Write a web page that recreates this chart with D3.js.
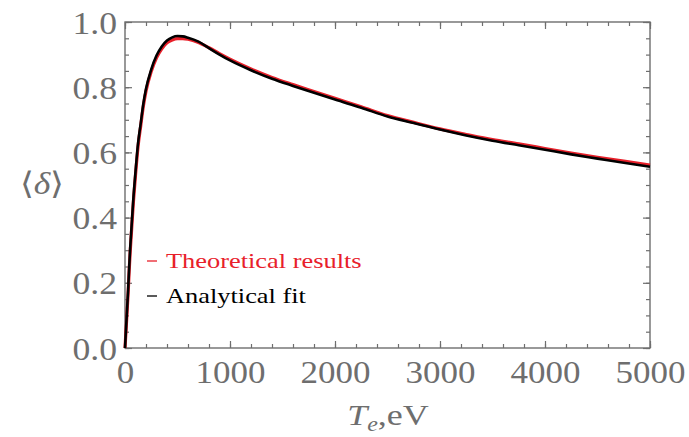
<!DOCTYPE html>
<html><head><meta charset="utf-8">
<script src="https://cdn.jsdelivr.net/npm/d3@7"></script>
<style>
html,body{margin:0;padding:0;background:#fff;}
svg{display:block;}
</style></head>
<body><svg id="c" width="689" height="437"></svg>
<script>
// ---- data ----
const temps = [0,10,20,30,40,50,60,80,100,125,150,175,200,250,300,350,400,450,500,550,600,700,800,900,1000,1200,1400,1600,1800,2000,2250,2500,2750,3000,3250,3500,3750,4000,4250,4500,4750,5000];
const analyticalFit = [0,0.06,0.12,0.18,0.25,0.31,0.36,0.46,0.54,0.63,0.69,0.75,0.795,0.855,0.897,0.925,0.943,0.953,0.957,0.956,0.952,0.94,0.92,0.9,0.882,0.852,0.826,0.804,0.783,0.762,0.737,0.71,0.69,0.67,0.652,0.636,0.622,0.608,0.594,0.581,0.568,0.556];
const theoretical = [0,0.055,0.112,0.17,0.238,0.298,0.348,0.448,0.53,0.62,0.682,0.742,0.788,0.848,0.89,0.918,0.936,0.945,0.949,0.949,0.947,0.937,0.921,0.903,0.886,0.856,0.830,0.808,0.787,0.766,0.740,0.713,0.692,0.672,0.655,0.639,0.626,0.612,0.598,0.585,0.573,0.561];
const xTicks = [0,1000,2000,3000,4000,5000];
const yTicks = [0.0,0.2,0.4,0.6,0.8,1.0];
const legendLabels = ["Theoretical results","Analytical fit"];
const seriesColors = ["#e8202a","#000000"];

// ---- layout ----
const FONT="Liberation Serif";
const L=125,R=650,T=22,B=348;
const svg=d3.select("#c");
const x=d3.scaleLinear().domain([0,5000]).range([L,R]);
const y=d3.scaleLinear().domain([0,1]).range([B,T]);
const axisCol="#6e6e6e";

const xMinor=d3.range(0,5001,200), yMinor=d3.range(0,1.0001,0.05);

function styleAxis(g){
  g.attr("font-family",null).attr("font-size",null);
  g.select(".domain").remove();
  g.selectAll(".tick line").attr("stroke",axisCol).attr("stroke-width",1.2);
}
// minor ticks
svg.append("g").attr("transform",`translate(0,${B})`).call(d3.axisBottom(x).tickValues(xMinor).tickSize(-4).tickFormat("")).call(styleAxis);
svg.append("g").attr("transform",`translate(0,${T})`).call(d3.axisTop(x).tickValues(xMinor).tickSize(-4).tickFormat("")).call(styleAxis);
svg.append("g").attr("transform",`translate(${L},0)`).call(d3.axisLeft(y).tickValues(yMinor).tickSize(-4).tickFormat("")).call(styleAxis);
svg.append("g").attr("transform",`translate(${R},0)`).call(d3.axisRight(y).tickValues(yMinor).tickSize(-4).tickFormat("")).call(styleAxis);
// major ticks
const fmtY=d3.format(".1f");
const gx=svg.append("g").attr("transform",`translate(0,${B})`).call(d3.axisBottom(x).tickValues(xTicks).tickSize(-7).tickFormat(d3.format("d"))).call(styleAxis);
const gy=svg.append("g").attr("transform",`translate(${L},0)`).call(d3.axisLeft(y).tickValues(yTicks).tickSize(-7).tickFormat(fmtY)).call(styleAxis);
svg.append("g").attr("transform",`translate(0,${T})`).call(d3.axisTop(x).tickValues(xTicks).tickSize(-7).tickFormat("")).call(styleAxis);
svg.append("g").attr("transform",`translate(${R},0)`).call(d3.axisRight(y).tickValues(yTicks).tickSize(-7).tickFormat("")).call(styleAxis);
[gx,gy].forEach(g=>g.selectAll(".tick text").attr("fill",axisCol).attr("font-family",FONT).attr("font-size",31));
gx.selectAll(".tick text").attr("y",0).attr("dy",0).attr("transform","translate(0,35) scale(1.13,1)");
gy.selectAll(".tick text").attr("x",0).attr("dy",0).attr("transform","translate(-8,11) scale(1.15,1)");

// frame
svg.append("rect").attr("x",L).attr("y",T).attr("width",R-L).attr("height",B-T).attr("fill","none").attr("stroke",axisCol).attr("stroke-width",1.4);

// curves
const line=d3.line().x((d,i)=>x(temps[i])).y(d=>y(d)).curve(d3.curveMonotoneX);
svg.append("path").datum(theoretical).attr("d",line).attr("fill","none").attr("stroke",seriesColors[0]).attr("stroke-width",3.2);
svg.append("path").datum(analyticalFit).attr("d",line).attr("fill","none").attr("stroke",seriesColors[1]).attr("stroke-width",2.6);

// legend
const lg=svg.append("g");
legendLabels.forEach((lab,i)=>{
  const yy=268+i*35;
  lg.append("line").attr("x1",147).attr("x2",157).attr("y1",yy-7).attr("y2",yy-7).attr("stroke",seriesColors[i]).attr("stroke-width",1.3);
  lg.append("text").attr("transform",`translate(166,${yy}) scale(1.2,1)`).attr("font-family",FONT).attr("font-size",22).attr("fill",seriesColors[i]).text(lab);
});

// axis labels
const yl=svg.append("text").attr("transform","translate(42,194) scale(1.15,1)").attr("text-anchor","middle").attr("font-family",FONT).attr("font-size",31).attr("fill",axisCol);
yl.append("tspan").text("⟨");
yl.append("tspan").attr("font-style","italic").text("δ");
yl.append("tspan").text("⟩");
const xl=svg.append("text").attr("transform","translate(388,425) scale(1.2,1)").attr("text-anchor","middle").attr("font-family",FONT).attr("font-size",30).attr("fill",axisCol);
xl.append("tspan").attr("font-style","italic").text("T");
xl.append("tspan").attr("font-style","italic").attr("font-size",20).attr("dy",6).text("e");
xl.append("tspan").attr("dy",-6).text(",eV");
</script></body></html>
